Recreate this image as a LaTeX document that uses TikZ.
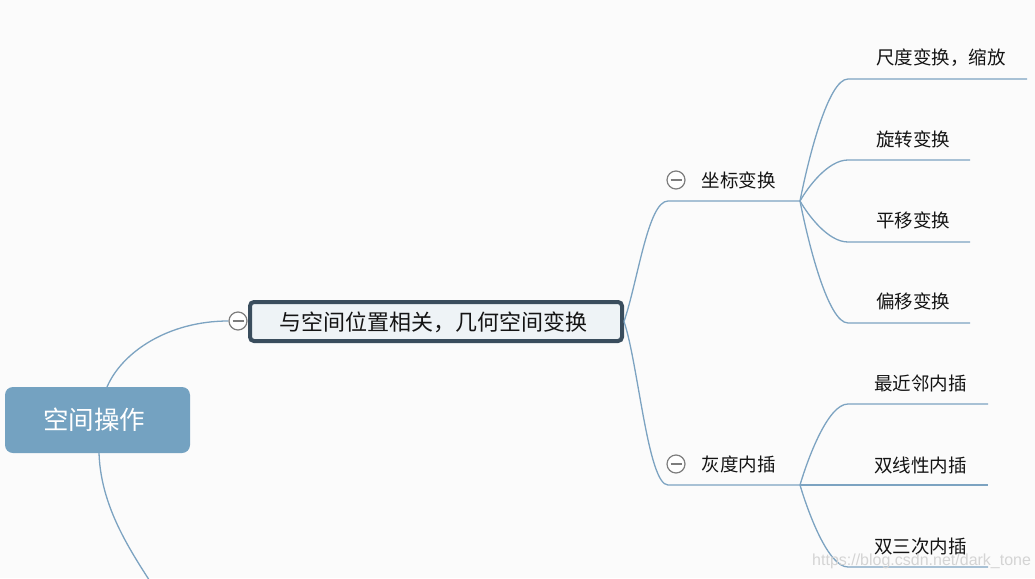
\documentclass[tikz,border=0pt]{standalone}
\usepackage{fontspec}
\setmainfont{Noto Sans CJK SC}
\newfontfamily\wmfont{Liberation Sans}
\definecolor{bgc}{RGB}{251,251,251}
\definecolor{rootc}{RGB}{116,162,193}
\definecolor{linec}{RGB}{124,163,193}
\definecolor{mainb}{RGB}{58,77,93}
\definecolor{mainf}{RGB}{238,243,246}
\definecolor{txtc}{RGB}{20,20,20}
\definecolor{colc}{RGB}{125,125,125}
\begin{document}
\begin{tikzpicture}[x=1pt,y=-1pt,
  conn/.style={draw=linec,line width=1.3pt},
  rootbox/.style={rectangle,rounded corners=8pt,fill=rootc,minimum width=185pt,minimum height=66pt,inner sep=0pt,text=white,font=\fontsize{25.5}{25.5}\selectfont},
  mainbox/.style={rectangle,rounded corners=4pt,draw=mainb,line width=4pt,fill=mainf,minimum width=372pt,minimum height=39pt,inner sep=0pt,text=txtc,font=\fontsize{22}{22}\selectfont},
  lvltext/.style={inner sep=0pt,text=txtc,font=\fontsize{18.5}{18.5}\selectfont},
  collapse/.style={circle,draw=colc,fill=white,line width=1.2pt,minimum size=18pt,inner sep=0pt,
    path picture={\draw[colc,line width=1.2pt] ([xshift=3.5pt]path picture bounding box.west) -- ([xshift=-3.5pt]path picture bounding box.east);}},
  wm/.style={inner sep=0pt,text=black!17,font=\wmfont\fontsize{16}{16}\selectfont}
]
\useasboundingbox (0,0) rectangle (1035,578);
\fill[bgc] (0,0) rectangle (1035,578);
\clip (0,0) rectangle (1035,578);

% nodes
\node[rootbox] (root) at (97.5,420) {};
\node[inner sep=0pt,text=white,font=\fontsize{25.5}{25.5}\selectfont] (roottxt) at (94,420) {空间操作};
\node[mainbox] (m) at (436,321.5) {};
\node[inner sep=0pt,text=txtc,font=\fontsize{22}{22}\selectfont] (mtxt) at (433.5,322) {与空间位置相关，几何空间变换};
\node[collapse] (c0) at (238,321) {};

\coordinate (rt) at (107,387);
\coordinate (rb) at (99,453);
\coordinate (offb) at (162,600);
\draw[conn] (rt) .. controls +(15,-35) and +(-60,0) .. (c0.west);
\draw[conn] (rb) .. controls +(2,60) and +(-25,-40) .. (offb);

% level 2
\coordinate (k1) at (668,201); \coordinate (k1e) at (800,201);
\coordinate (k2) at (668,485); \coordinate (k2e) at (800,485);
\draw[conn] (m.east) .. controls +(14,-41) and +(-20,0) .. (k1) -- (k1e);
\draw[conn] (m.east) .. controls +(14,41) and +(-20,0) .. (k2) -- (k2e);
\node[collapse] (c1) at (676,180) {};
\node[collapse] (c2) at (676,464) {};
\node[lvltext] (t1) at (738.5,180) {坐标变换};
\node[lvltext] (t2) at (738.5,464) {灰度内插};

% leaves of 坐标变换
\coordinate (a1) at (848,79);  \coordinate (a1e) at (1027,79);
\coordinate (a2) at (848,160); \coordinate (a2e) at (970,160);
\coordinate (a3) at (848,242); \coordinate (a3e) at (970,242);
\coordinate (a4) at (848,323); \coordinate (a4e) at (970,323);
\draw[conn] (k1e) .. controls +(8,-41) and +(-20,0) .. (a1) -- (a1e);
\draw[conn] (k1e) .. controls +(8,-14) and +(-20,0) .. (a2) -- (a2e);
\draw[conn] (k1e) .. controls +(8,14) and +(-20,0) .. (a3) -- (a3e);
\draw[conn] (k1e) .. controls +(8,41) and +(-20,0) .. (a4) -- (a4e);
\node[lvltext,anchor=west] (ta1) at (876,58) {尺度变换，缩放};
\node[lvltext,anchor=west] (ta2) at (876,139) {旋转变换};
\node[lvltext,anchor=west] (ta3) at (876,220) {平移变换};
\node[lvltext,anchor=west] (ta4) at (876,301) {偏移变换};

% leaves of 灰度内插
\coordinate (b1) at (848,404); \coordinate (b1e) at (988,404);
\coordinate (b2) at (848,485); \coordinate (b2e) at (988,485);
\coordinate (b3) at (848,567); \coordinate (b3e) at (988,567);
\draw[conn] (k2e) .. controls +(8,-27) and +(-20,0) .. (b1) -- (b1e);
\draw[conn] (k2e) -- (b2) -- (b2e);
\draw[conn] (k2e) .. controls +(8,27) and +(-20,0) .. (b3) -- (b3e);
\node[lvltext,anchor=west] (tb1) at (874,383) {最近邻内插};
\node[lvltext,anchor=west] (tb2) at (874,465) {双线性内插};
\node[lvltext,anchor=west] (tb3) at (874,546) {双三次内插};

% watermark
\node[wm,anchor=west] (wmk) at (812,561) {https://blog.csdn.net/dark\_tone};
\end{tikzpicture}
\end{document}
